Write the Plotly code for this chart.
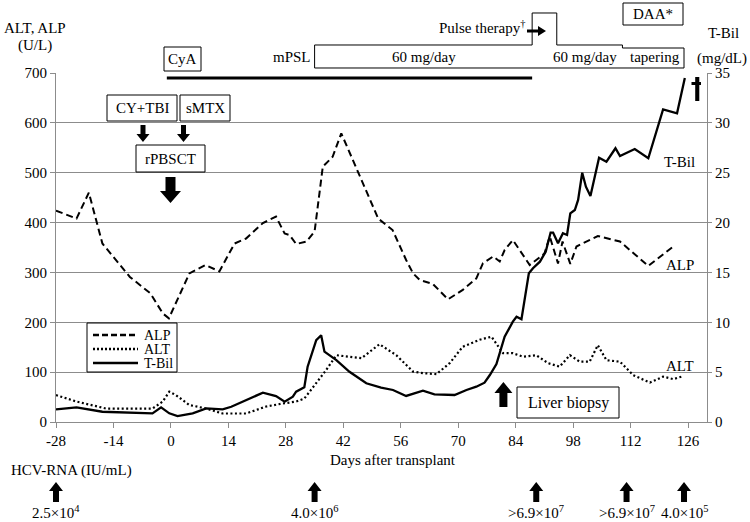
import plotly.graph_objects as go

# ---------------- data ----------------
alp_days = [-28, -23, -20, -16.7, -10, -5, -2, -0.5, 4.5, 8.4, 11.8, 15.5, 18.3, 22.4, 25.6, 27.7,
            28.9, 30.5, 33, 35, 37, 39.4, 41.5, 46, 50.5, 54, 57.3, 59, 60.6, 63.8, 67.5, 71.1,
            74.4, 76, 78.5, 80.1, 81.3, 83.3, 85, 87.4, 89, 91, 92.3, 94.3, 95.4, 97.3, 98.8,
            104, 109.4, 116.3, 122.4]
alp_vals = [424, 408, 460, 358, 291, 258, 218, 208, 298, 315, 302, 358, 368, 399, 412, 378,
            375, 357, 362, 382, 512, 532, 579, 492, 408, 385, 325, 298, 285, 277, 246, 265,
            288, 318, 332, 322, 345, 365, 345, 315, 325, 338, 372, 318, 362, 317, 352,
            373, 362, 313, 352]

alt_days = [-28, -23, -15.8, -4.5, -2, -0.4, 1.2, 4.5, 8.6, 12.6, 18.3, 23.2, 27.2, 30.5, 32.5,
            35.4, 37.8, 40.3, 43.5, 46.4, 50.8, 54.9, 59, 61.4, 64.7, 67.9, 71.1, 75.2, 78.1,
            80.9, 83.3, 85.8, 89, 91.9, 94.7, 97.2, 99.6, 102, 104, 106.1, 109.4, 112.6,
            116.7, 119.9, 122.4, 124.4]
alt_vals = [54, 41, 27, 27, 41, 61, 54, 34, 27, 17, 17, 31, 37, 41, 47,
            78, 104, 134, 131, 128, 156, 134, 101, 98, 96, 118, 151, 165, 171,
            138, 138, 131, 134, 118, 111, 134, 121, 121, 154, 124, 121, 94,
            79, 91, 86, 91]

tbil_days = [-28, -23, -16.7, -4.5, -2.4, -0.4, 1.6, 5.3, 8.6, 12.6, 14.7, 19.1, 22.4, 25.6,
             27.7, 29.7, 30.5, 32.5, 33.3, 35.4, 36.6, 37.4, 40.3, 43.5, 47.6, 51.2, 54.1,
             57.3, 61.4, 64.2, 69.1, 72, 74.4, 76.4, 77.7, 79.3, 81.3, 83.3, 84.2, 85.4,
             87.2, 88.2, 89.9, 91.3, 92.5, 93.1, 94.3, 95.5, 96.5, 97.3, 98.4, 99.2, 100.2,
             101.1, 102.2, 104.3, 106.1, 108.3, 109.4, 113, 116.3, 119.9, 123.3, 125.2]
tbil_vals = [1.27, 1.47, 1.03, 0.87, 1.47, 0.87, 0.6, 0.87, 1.37, 1.27, 1.53, 2.37, 2.94, 2.6,
             2.04, 2.54, 3.04, 3.48, 5.55, 8.2, 8.7, 7.05, 6.2, 5.04, 3.88, 3.45, 3.21,
             2.61, 3.14, 2.78, 2.71, 3.21, 3.54, 3.94, 4.71, 5.82, 8.56, 10.06, 10.56, 10.3,
             14.91, 15.42, 16.08, 17.08, 19.0, 19.0, 17.92, 18.93, 18.76, 20.93, 21.26, 22.27, 25.0,
             23.6, 22.67, 26.5, 26.1, 27.45, 26.68, 27.38, 26.45, 31.36, 30.96, 34.5]

x_ticks = [-28, -14, 0, 14, 28, 42, 56, 70, 84, 98, 112, 126]
x_tick_labels = ["-28", "-14", "0", "14", "28", "42", "56", "70", "84", "98", "112", "126"]

hcv_days = [-28, 35, 89, 111, 125]
hcv_labels = ["2.5×10<sup>4</sup>", "4.0×10<sup>6</sup>", ">6.9×10<sup>7</sup>",
              ">6.9×10<sup>7</sup>", "4.0×10<sup>5</sup>"]

cya_days = [-1, 88]
mpsl_days = [35, 88, 94, 110, 125]   # start, pulse start, pulse end, tapering, end
biopsy_day = 81

# ---------------- geometry helpers ----------------
W, H = 750, 522
L, R, T, B = 56, 707, 73, 422
XMIN, XMAX = -28, 130.6
FONT = "Liberation Serif, Times New Roman, Times, serif"


def xp(px):
    return (px - L) / (R - L)


def yp(py):
    return (B - py) / (B - T)


def xd(day):
    return (day - XMIN) / (XMAX - XMIN)


def dpx(day):
    return L + xd(day) * (R - L)


def varrow(cx, tip, tail, shaft, head, hlen):
    """vertical block arrow in pixel coords -> paper path"""
    d = 1 if tail > tip else -1
    hb = tip + d * hlen
    pts = [(cx - shaft / 2, tail), (cx - shaft / 2, hb), (cx - head / 2, hb), (cx, tip),
           (cx + head / 2, hb), (cx + shaft / 2, hb), (cx + shaft / 2, tail)]
    return "M " + " L ".join(f"{xp(x):.5f},{yp(y):.5f}" for x, y in pts) + " Z"


def harrow(x0, x1, cy, shaft, head, hlen):
    hb = x1 - hlen
    pts = [(x0, cy - shaft / 2), (hb, cy - shaft / 2), (hb, cy - head / 2), (x1, cy),
           (hb, cy + head / 2), (hb, cy + shaft / 2), (x0, cy + shaft / 2)]
    return "M " + " L ".join(f"{xp(x):.5f},{yp(y):.5f}" for x, y in pts) + " Z"


def rect(x0, y0, x1, y1, fill="white", lw=1):
    return dict(type="rect", xref="paper", yref="paper", x0=xp(x0), x1=xp(x1),
                y0=yp(y1), y1=yp(y0), line=dict(color="black", width=lw), fillcolor=fill,
                layer="above")


def path(p, fill="black", lw=0):
    return dict(type="path", xref="paper", yref="paper", path=p, fillcolor=fill,
                line=dict(color="black", width=lw), layer="above")


def text(t, x, y, size=15, xanchor="center"):
    return dict(text=t, x=xp(x), y=yp(y), xref="paper", yref="paper", showarrow=False,
                xanchor=xanchor, yanchor="middle",
                font=dict(family=FONT, size=size, color="black"))


# ---------------- figure ----------------
fig = go.Figure()
fig.add_trace(go.Scatter(x=alp_days, y=alp_vals, mode="lines", name="ALP",
                         line=dict(color="black", width=2, dash="7px,4px")))
fig.add_trace(go.Scatter(x=alt_days, y=alt_vals, mode="lines", name="ALT",
                         line=dict(color="black", width=2.2, dash="2px,2.5px")))
fig.add_trace(go.Scatter(x=tbil_days, y=tbil_vals, mode="lines", name="T-Bil", yaxis="y2",
                         line=dict(color="black", width=2.3)))

shapes = []
m0, mp0, mp1, mt, me = mpsl_days
ybot, ytop, ypul, ytap = 68, 45, 13, 48
pts = [(dpx(m0), ybot), (dpx(m0), ytop), (dpx(mp0), ytop), (dpx(mp0), ypul), (dpx(mp1), ypul),
       (dpx(mp1), ytop), (dpx(mt), ytop), (dpx(mt), ytap), (dpx(me), ytap), (dpx(me), ybot)]
shapes.append(dict(type="path", xref="paper", yref="paper",
                   path="M " + " L ".join(f"{xp(x):.5f},{yp(y):.5f}" for x, y in pts) + " Z",
                   line=dict(color="black", width=1), fillcolor="rgba(0,0,0,0)"))
shapes.append(dict(type="line", xref="paper", yref="paper", x0=xd(cya_days[0]), x1=xd(cya_days[1]),
                   y0=yp(78), y1=yp(78), line=dict(color="black", width=3)))
shapes.append(rect(164, 47, 201, 71))        # CyA
shapes.append(rect(107, 95, 177, 121))       # CY+TBI
shapes.append(rect(180, 95, 230, 121))       # sMTX
shapes.append(rect(136, 145, 205, 172))      # rPBSCT
shapes.append(rect(623, 3, 683, 25))         # DAA*
shapes.append(rect(517, 387, 619, 418))      # Liver biopsy
shapes.append(path(varrow(143, 142, 125, 5, 13, 8)))
shapes.append(path(varrow(183.5, 142, 125, 5, 13, 8)))
shapes.append(path(varrow(170.5, 203, 177, 10, 21, 12)))
shapes.append(path(varrow(dpx(biopsy_day), 382, 407, 8, 18, 11)))
shapes.append(path(harrow(527, 546, 31, 3, 10, 8)))
for d in hcv_days:
    shapes.append(path(varrow(dpx(d), 482, 502, 6, 14, 9)))
shapes.append(rect(695.2, 77, 699.3, 101, fill="black", lw=0))
shapes.append(rect(691.5, 82, 701, 85, fill="black", lw=0))
shapes.append(rect(87, 323, 177, 372, lw=1))
for yy, dash in [(335, "6px,3px"), (349, "2px,2px"), (363, "solid")]:
    shapes.append(dict(type="line", xref="paper", yref="paper", x0=xp(93), x1=xp(138),
                       y0=yp(yy), y1=yp(yy), line=dict(color="black", width=2.4, dash=dash),
                       layer="above"))

ann = [
    text("ALT, ALP", 35, 28), text("(U/L)", 35, 46),
    text("T-Bil", 723, 33), text("(mg/dL)", 722, 58),
    text("CyA", 182.5, 59), text("mPSL", 313, 57, xanchor="right"),
    text("60 mg/day", 424, 57), text("60 mg/day", 585, 57), text("tapering", 655, 57),
    text("Pulse therapy<sup>†</sup>", 527, 27, xanchor="right"),
    text("DAA*", 653, 14),
    text("CY+TBI", 142, 108), text("sMTX", 205, 108), text("rPBSCT", 170.5, 158.5),
    text("T-Bil", 679, 162), text("ALP", 680, 265), text("ALT", 680, 366),
    text("Liver biopsy", 568, 403, size=16),
    text("Days after transplant", 393, 460),
    text("HCV-RNA (IU/mL)", 71, 470),
    text("ALP", 142, 335, size=14, xanchor="left"),
    text("ALT", 142, 349, size=14, xanchor="left"),
    text("T-Bil", 142, 363, size=14, xanchor="left"),
]
for d, lab in zip(hcv_days, hcv_labels):
    ann.append(text(lab, dpx(d), 512))

axcol = "#8c8c8c"
tf = dict(family=FONT, size=15, color="black")
fig.update_layout(
    width=W, height=H,
    margin=dict(l=L, r=W - R, t=T, b=H - B, pad=0),
    paper_bgcolor="white", plot_bgcolor="white",
    showlegend=False,
    hovermode=False,
    font=dict(family=FONT, size=15, color="black"),
    xaxis=dict(range=[XMIN, XMAX], tickvals=x_ticks, ticktext=x_tick_labels, showgrid=False,
               zeroline=False, showline=True, linecolor=axcol, linewidth=1.2, ticks="outside",
               ticklen=5, tickcolor=axcol, tickfont=tf),
    yaxis=dict(range=[0, 700], dtick=100, showgrid=True, gridcolor=axcol, gridwidth=1.2,
               zeroline=False, showline=True, linecolor=axcol, linewidth=1.2, ticks="outside",
               ticklen=5, tickcolor=axcol, tickfont=tf),
    yaxis2=dict(range=[0, 35], dtick=5, overlaying="y", side="right", showgrid=False,
                zeroline=False, showline=True, linecolor=axcol, linewidth=1.2, ticks="outside",
                ticklen=4, tickcolor=axcol, tickfont=tf),
    shapes=shapes,
    annotations=ann,
)

fig.write_html("out.html", config={"displayModeBar": False},
               post_script="document.body.style.margin='0px';")
